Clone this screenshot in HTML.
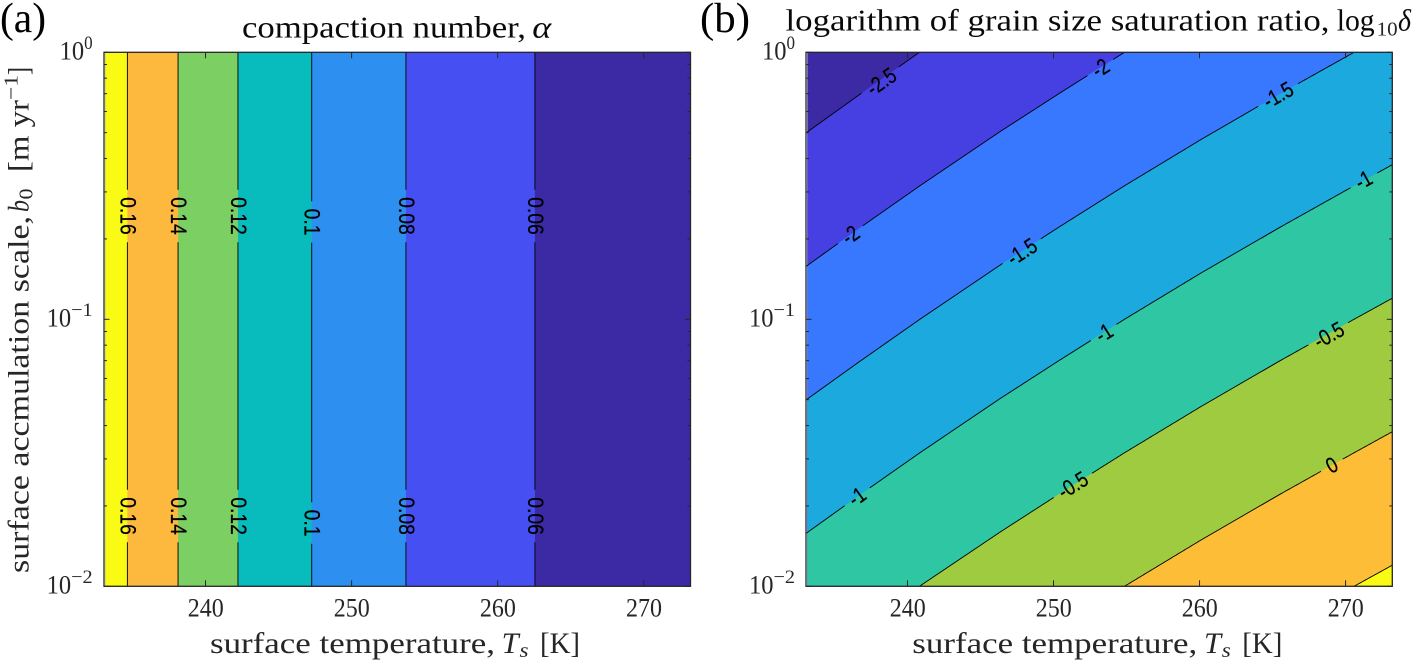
<!DOCTYPE html>
<html lang="en">
<head>
<meta charset="utf-8">
<title>Compaction number and grain size saturation ratio</title>
<style>
html,body{margin:0;padding:0;background:#fff;}
svg{display:block;}
text{font-family:"Liberation Serif",serif;}
.title{font-size:31px;fill:#0a0a0a;}
.axis-label{font-size:30px;fill:#262626;}
.small{font-size:20px;fill:#262626;}
.tick{font-size:26px;fill:#262626;}
.tick-sup{font-size:19px;fill:#262626;}
.panel{font-size:42px;fill:#000;}
.it{font-style:italic;}
.clabel{font-family:"Liberation Sans",sans-serif;font-size:22px;fill:#000;stroke:#000;stroke-width:0.25;}
</style>
</head>
<body>
<svg id="figure" xmlns="http://www.w3.org/2000/svg" width="1413" height="661" viewBox="0 0 1413 661">
  <g id="panel-a"></g>
  <g id="panel-b"></g>

  <text class="panel" x="0" y="32" textLength="46" lengthAdjust="spacingAndGlyphs">(a)</text>
  <text class="panel" x="700" y="32" textLength="50" lengthAdjust="spacingAndGlyphs">(b)</text>

  <g>
    <text class="title" x="242" y="37.7" textLength="284" lengthAdjust="spacingAndGlyphs">compaction number,</text>
    <text class="title it" x="532.3" y="37.7" textLength="19" lengthAdjust="spacingAndGlyphs">α</text>
  </g>
  <g>
    <text class="title" x="785.5" y="30.7" textLength="544" lengthAdjust="spacingAndGlyphs">logarithm of grain size saturation ratio,</text>
    <text class="title" x="1336.7" y="30.7" textLength="38" lengthAdjust="spacingAndGlyphs">log</text>
    <text class="small" x="1376.7" y="35.5" textLength="21" lengthAdjust="spacingAndGlyphs">10</text>
    <text class="title it" x="1398" y="30.7" textLength="13" lengthAdjust="spacingAndGlyphs">δ</text>
  </g>

  <g>
    <text class="axis-label" x="210" y="653" textLength="285" lengthAdjust="spacingAndGlyphs">surface temperature,</text>
    <text class="axis-label it" x="501.7" y="653" textLength="17" lengthAdjust="spacingAndGlyphs">T</text>
    <text class="small it" x="519.5" y="657" textLength="9" lengthAdjust="spacingAndGlyphs">s</text>
    <text class="axis-label" x="540" y="653" textLength="40" lengthAdjust="spacingAndGlyphs">[K]</text>
  </g>
  <g>
    <text class="axis-label" x="912.3" y="653" textLength="285" lengthAdjust="spacingAndGlyphs">surface temperature,</text>
    <text class="axis-label it" x="1204" y="653" textLength="17" lengthAdjust="spacingAndGlyphs">T</text>
    <text class="small it" x="1221.8" y="657" textLength="9" lengthAdjust="spacingAndGlyphs">s</text>
    <text class="axis-label" x="1242.3" y="653" textLength="40" lengthAdjust="spacingAndGlyphs">[K]</text>
  </g>

  <g transform="translate(28.3,573) rotate(-90)">
    <text class="axis-label" x="0" y="0" textLength="357" lengthAdjust="spacingAndGlyphs">surface accmulation scale,</text>
    <text class="axis-label it" x="361" y="0" textLength="12" lengthAdjust="spacingAndGlyphs">b</text>
    <text class="small" x="373.5" y="4" textLength="11" lengthAdjust="spacingAndGlyphs">0</text>
    <text class="axis-label" x="401" y="0" textLength="72" lengthAdjust="spacingAndGlyphs">[m yr</text>
    <text class="small" x="473" y="-11" textLength="25" lengthAdjust="spacingAndGlyphs">−1</text>
    <text class="axis-label" x="498" y="0" textLength="8" lengthAdjust="spacingAndGlyphs">]</text>
  </g>
</svg>

<script>
// ---------- shared axis data ----------
const tempDomain = [233.05, 273.2];
const logBDomain = [-2, 0];
const xTickValues = [240, 250, 260, 270];
const yDecades = [-2, -1, 0];
const yMinorFactors = [2, 3, 4, 5, 6, 7, 8, 9];

// ---------- panel (a): compaction number ----------
const alphaLevels = [0.16, 0.14, 0.12, 0.1, 0.08, 0.06];
const alphaTemps = [234.65, 238.12, 242.22, 247.27, 253.72, 262.55];
const alphaUpperLabelLogB = [-0.613, -0.613, -0.613, -0.636, -0.613, -0.613];
const alphaLowerLabelLogB = [-1.737, -1.737, -1.737, -1.763, -1.737, -1.737];
const alphaColors = ["#3c2aa5", "#4650f2", "#2d8fef", "#08bbbd", "#7ccf62", "#fcb93d", "#f9fb14"];

// ---------- panel (b): log10 of grain size saturation ratio ----------
const deltaLevels = [-2.5, -2, -1.5, -1, -0.5, 0, 0.5];
const deltaColors = ["#3b2aa3", "#4640e3", "#3778ff", "#1ca9dd", "#2fc6a3", "#9fcb41", "#fdbd36", "#f9fb14"];

const levelM25Temp = [233.05, 236.75, 240.82];
const levelM25LogB = [-0.302, -0.157, 0];
const levelM20Temp = [233.05, 236.75, 240.82, 246.34, 250.45, 254.86];
const levelM20LogB = [-0.802, -0.657, -0.501, -0.297, -0.152, 0];
const levelM15Temp = [233.05, 236.75, 240.82, 246.34, 250.45, 254.86, 260.03, 265.52, 270.58];
const levelM15LogB = [-1.302, -1.157, -1.001, -0.797, -0.652, -0.500, -0.329, -0.155, 0];
const levelM10Temp = [233.05, 236.75, 240.82, 246.34, 250.45, 254.86, 260.03, 265.52, 270.58, 273.2];
const levelM10LogB = [-1.802, -1.657, -1.501, -1.297, -1.152, -1.0, -0.829, -0.655, -0.5, -0.421];
const levelM05Temp = [240.82, 246.34, 250.45, 254.86, 260.03, 265.52, 270.58, 273.2];
const levelM05LogB = [-2, -1.797, -1.652, -1.5, -1.329, -1.155, -1.0, -0.921];
const levelP00Temp = [254.86, 260.03, 265.52, 270.58, 273.2];
const levelP00LogB = [-2, -1.829, -1.655, -1.5, -1.421];
const levelP05Temp = [270.58, 273.2];
const levelP05LogB = [-2, -1.921];
const deltaLineTemps = [levelM25Temp, levelM20Temp, levelM15Temp, levelM10Temp, levelM05Temp, levelP00Temp, levelP05Temp];
const deltaLineLogBs = [levelM25LogB, levelM20LogB, levelM15LogB, levelM10LogB, levelM05LogB, levelP00LogB, levelP05LogB];

const deltaLabelLevelIndex = [0, 1, 1, 2, 2, 3, 3, 3, 4, 4, 5];
const deltaLabelTemp = [238.21, 253.22, 236.1, 265.38, 247.84, 271.23, 253.46, 236.54, 268.86, 251.32, 269.06];
const deltaLabelLogB = [-0.110, -0.059, -0.684, -0.160, -0.747, -0.478, -1.051, -1.664, -1.059, -1.621, -1.546];

// ---------- drawing ----------
const NS = "http://www.w3.org/2000/svg";
const PLOT_TOP = 52.3, PLOT_BOTTOM = 586.3;

function make(tag, parent, attrs) {
  const el = document.createElementNS(NS, tag);
  for (const k in attrs) el.setAttribute(k, attrs[k]);
  parent.appendChild(el);
  return el;
}
function axisX(x0, x1) {
  return t => x0 + (t - tempDomain[0]) / (tempDomain[1] - tempDomain[0]) * (x1 - x0);
}
function axisY(l) {
  return PLOT_TOP + (logBDomain[1] - l) / (logBDomain[1] - logBDomain[0]) * (PLOT_BOTTOM - PLOT_TOP);
}

function contourPath(pts, gaps) {
  let d = "", pen = false;
  for (let i = 0; i < pts.length - 1; i++) {
    const a = pts[i], b = pts[i + 1];
    const len = Math.hypot(b[0] - a[0], b[1] - a[1]);
    const n = Math.max(1, Math.ceil(len / 0.5));
    for (let s = 0; s <= n; s++) {
      const x = a[0] + (b[0] - a[0]) * s / n, y = a[1] + (b[1] - a[1]) * s / n;
      const hidden = gaps.some(g => Math.hypot(x - g.x, y - g.y) < g.r);
      if (hidden) { pen = false; continue; }
      d += (pen ? "L" : "M") + x.toFixed(2) + " " + y.toFixed(2);
      pen = true;
    }
  }
  return d;
}

function contourLabel(parent, text, x, y, angle, squeeze) {
  const el = make("text", parent, {
    "class": "clabel", "text-anchor": "middle", "dominant-baseline": "central",
    transform: "translate(" + x.toFixed(2) + "," + y.toFixed(2) + ") rotate(" + angle.toFixed(1) + ")"
  });
  
  
  el.textContent = text;
  const length = el.getComputedTextLength() * squeeze;
  el.setAttribute("textLength", length.toFixed(2));
  el.setAttribute("lengthAdjust", "spacingAndGlyphs");
  return { x: x, y: y, r: length / 2 + 7 };
}

function drawAxes(parent, x0, x1, sx, tickRight) {
  const frame = make("rect", parent, {
    x: x0, y: PLOT_TOP, width: x1 - x0, height: PLOT_BOTTOM - PLOT_TOP,
    fill: "none", stroke: "#262626", "stroke-width": 1.3
  });
  
  

  xTickValues.forEach(v => {
    const x = sx(v);
    const bottom = make("line", parent, { x1: x, x2: x, y1: PLOT_BOTTOM, y2: PLOT_BOTTOM - 6, stroke: "#262626", "stroke-width": 1 });
    
    
    const top = make("line", parent, { x1: x, x2: x, y1: PLOT_TOP, y2: PLOT_TOP + 6, stroke: "#262626", "stroke-width": 1 });
    
    
    const label = make("text", parent, { "class": "tick", x: x + 0.2, y: 616.7, "text-anchor": "middle", textLength: 36, lengthAdjust: "spacingAndGlyphs" });
    
    
    label.textContent = String(v);
  });

  yDecades.forEach(dec => {
    const y = axisY(dec);
    [[x0, x0 + 5.5], [x1, x1 - 5.5]].forEach(p => {
      const t = make("line", parent, { x1: p[0], x2: p[1], y1: y, y2: y, stroke: "#262626", "stroke-width": 1 });
      
      
    });
    const sup = dec === 0 ? "0" : "−" + Math.abs(dec);
    const supWidth = dec === 0 ? 8.5 : 21.5;
    const right = tickRight;
    const ten = make("text", parent, { "class": "tick", x: right - supWidth - 24.5, y: y + 7, textLength: 24.5, lengthAdjust: "spacingAndGlyphs" });
    
    
    ten.textContent = "10";
    const exp = make("text", parent, { "class": "tick-sup", x: right - supWidth, y: y - 3.3, textLength: supWidth, lengthAdjust: "spacingAndGlyphs" });
    
    
    exp.textContent = sup;
    if (dec < 0) {
      yMinorFactors.forEach(f => {
        const my = axisY(dec + Math.log10(f));
        [[x0, x0 + 3], [x1, x1 - 3]].forEach(p => {
          const m = make("line", parent, { x1: p[0], x2: p[1], y1: my, y2: my, stroke: "#262626", "stroke-width": 1 });
          
          
        });
      });
    }
  });
}

function fillInset(parent, id, x0, x1) {
  const cp = make("clipPath", parent, { id: id });
  make("rect", cp, { x: x0 + 1.3, y: PLOT_TOP, width: x1 - x0 - 1.3, height: PLOT_BOTTOM - PLOT_TOP });
}

// Panel (a)
(function () {
  const root = document.getElementById("panel-a");
  const x0 = 104, x1 = 690.5, sx = axisX(x0, x1);
  fillInset(root, "clip-a", x0, x1);
  const fills = make("g", root, { "clip-path": "url(#clip-a)" });
  const bg = make("rect", fills, { x: x0, y: PLOT_TOP, width: x1 - x0, height: PLOT_BOTTOM - PLOT_TOP, fill: alphaColors[0] });
  
  
  for (let i = alphaTemps.length - 1; i >= 0; i--) {
    const band = make("rect", fills, {
      x: x0, y: PLOT_TOP, width: sx(alphaTemps[i]) - x0, height: PLOT_BOTTOM - PLOT_TOP,
      fill: alphaColors[alphaTemps.length - i]
    });
    
    
  }
  alphaLevels.forEach((lv, i) => {
    const x = sx(alphaTemps[i]);
    const gaps = [alphaUpperLabelLogB[i], alphaLowerLabelLogB[i]].map(l =>
      contourLabel(root, String(lv), x + 0.5, axisY(l), 90, 0.88));
    const line = make("path", root, {
      d: contourPath([[x, axisY(logBDomain[1])], [x, axisY(logBDomain[0])]], gaps),
      fill: "none", stroke: "#000", "stroke-width": 0.9
    });
    
    
  });
  drawAxes(root, x0, x1, sx, 92.6);
})();

// Panel (b)
(function () {
  const root = document.getElementById("panel-b");
  const x0 = 806, x1 = 1392.3, sx = axisX(x0, x1);
  fillInset(root, "clip-b", x0, x1);
  const fills = make("g", root, { "clip-path": "url(#clip-b)" });
  const bg = make("rect", fills, { x: x0, y: PLOT_TOP, width: x1 - x0, height: PLOT_BOTTOM - PLOT_TOP, fill: deltaColors[0] });
  
  

  const linePts = deltaLevels.map((_, i) =>
    deltaLineTemps[i].map((t, j) => [sx(t), axisY(deltaLineLogBs[i][j])]));

  linePts.forEach((pts, i) => {
    const temps = deltaLineTemps[i], logs = deltaLineLogBs[i];
    const poly = pts.slice();
    if (logs[logs.length - 1] >= logBDomain[1]) poly.push([x1, PLOT_TOP]);
    poly.push([x1, PLOT_BOTTOM]);
    if (temps[0] <= tempDomain[0]) poly.push([x0, PLOT_BOTTOM]);
    const band = make("polygon", fills, {
      points: poly.map(p => p[0].toFixed(2) + "," + p[1].toFixed(2)).join(" "),
      fill: deltaColors[i + 1]
    });
    
    
  });

  const gapsByLevel = deltaLevels.map(() => []);
  deltaLabelLevelIndex.forEach((lvl, k) => {
    const x = sx(deltaLabelTemp[k]), y = axisY(deltaLabelLogB[k]);
    const pts = linePts[lvl];
    let seg = 0;
    for (let s = 0; s < pts.length - 1; s++) if (pts[s][0] <= x) seg = s;
    const a = pts[seg], b = pts[seg + 1];
    const angle = Math.atan2(b[1] - a[1], b[0] - a[0]) * 180 / Math.PI;
    gapsByLevel[lvl].push(contourLabel(root, String(deltaLevels[lvl]), x, y, angle, 0.82));
  });

  linePts.forEach((pts, i) => {
    const line = make("path", root, {
      d: contourPath(pts, gapsByLevel[i]), fill: "none", stroke: "#000", "stroke-width": 0.9
    });
    
    
  });
  drawAxes(root, x0, x1, sx, 795);
})();
</script>
</body>
</html>
